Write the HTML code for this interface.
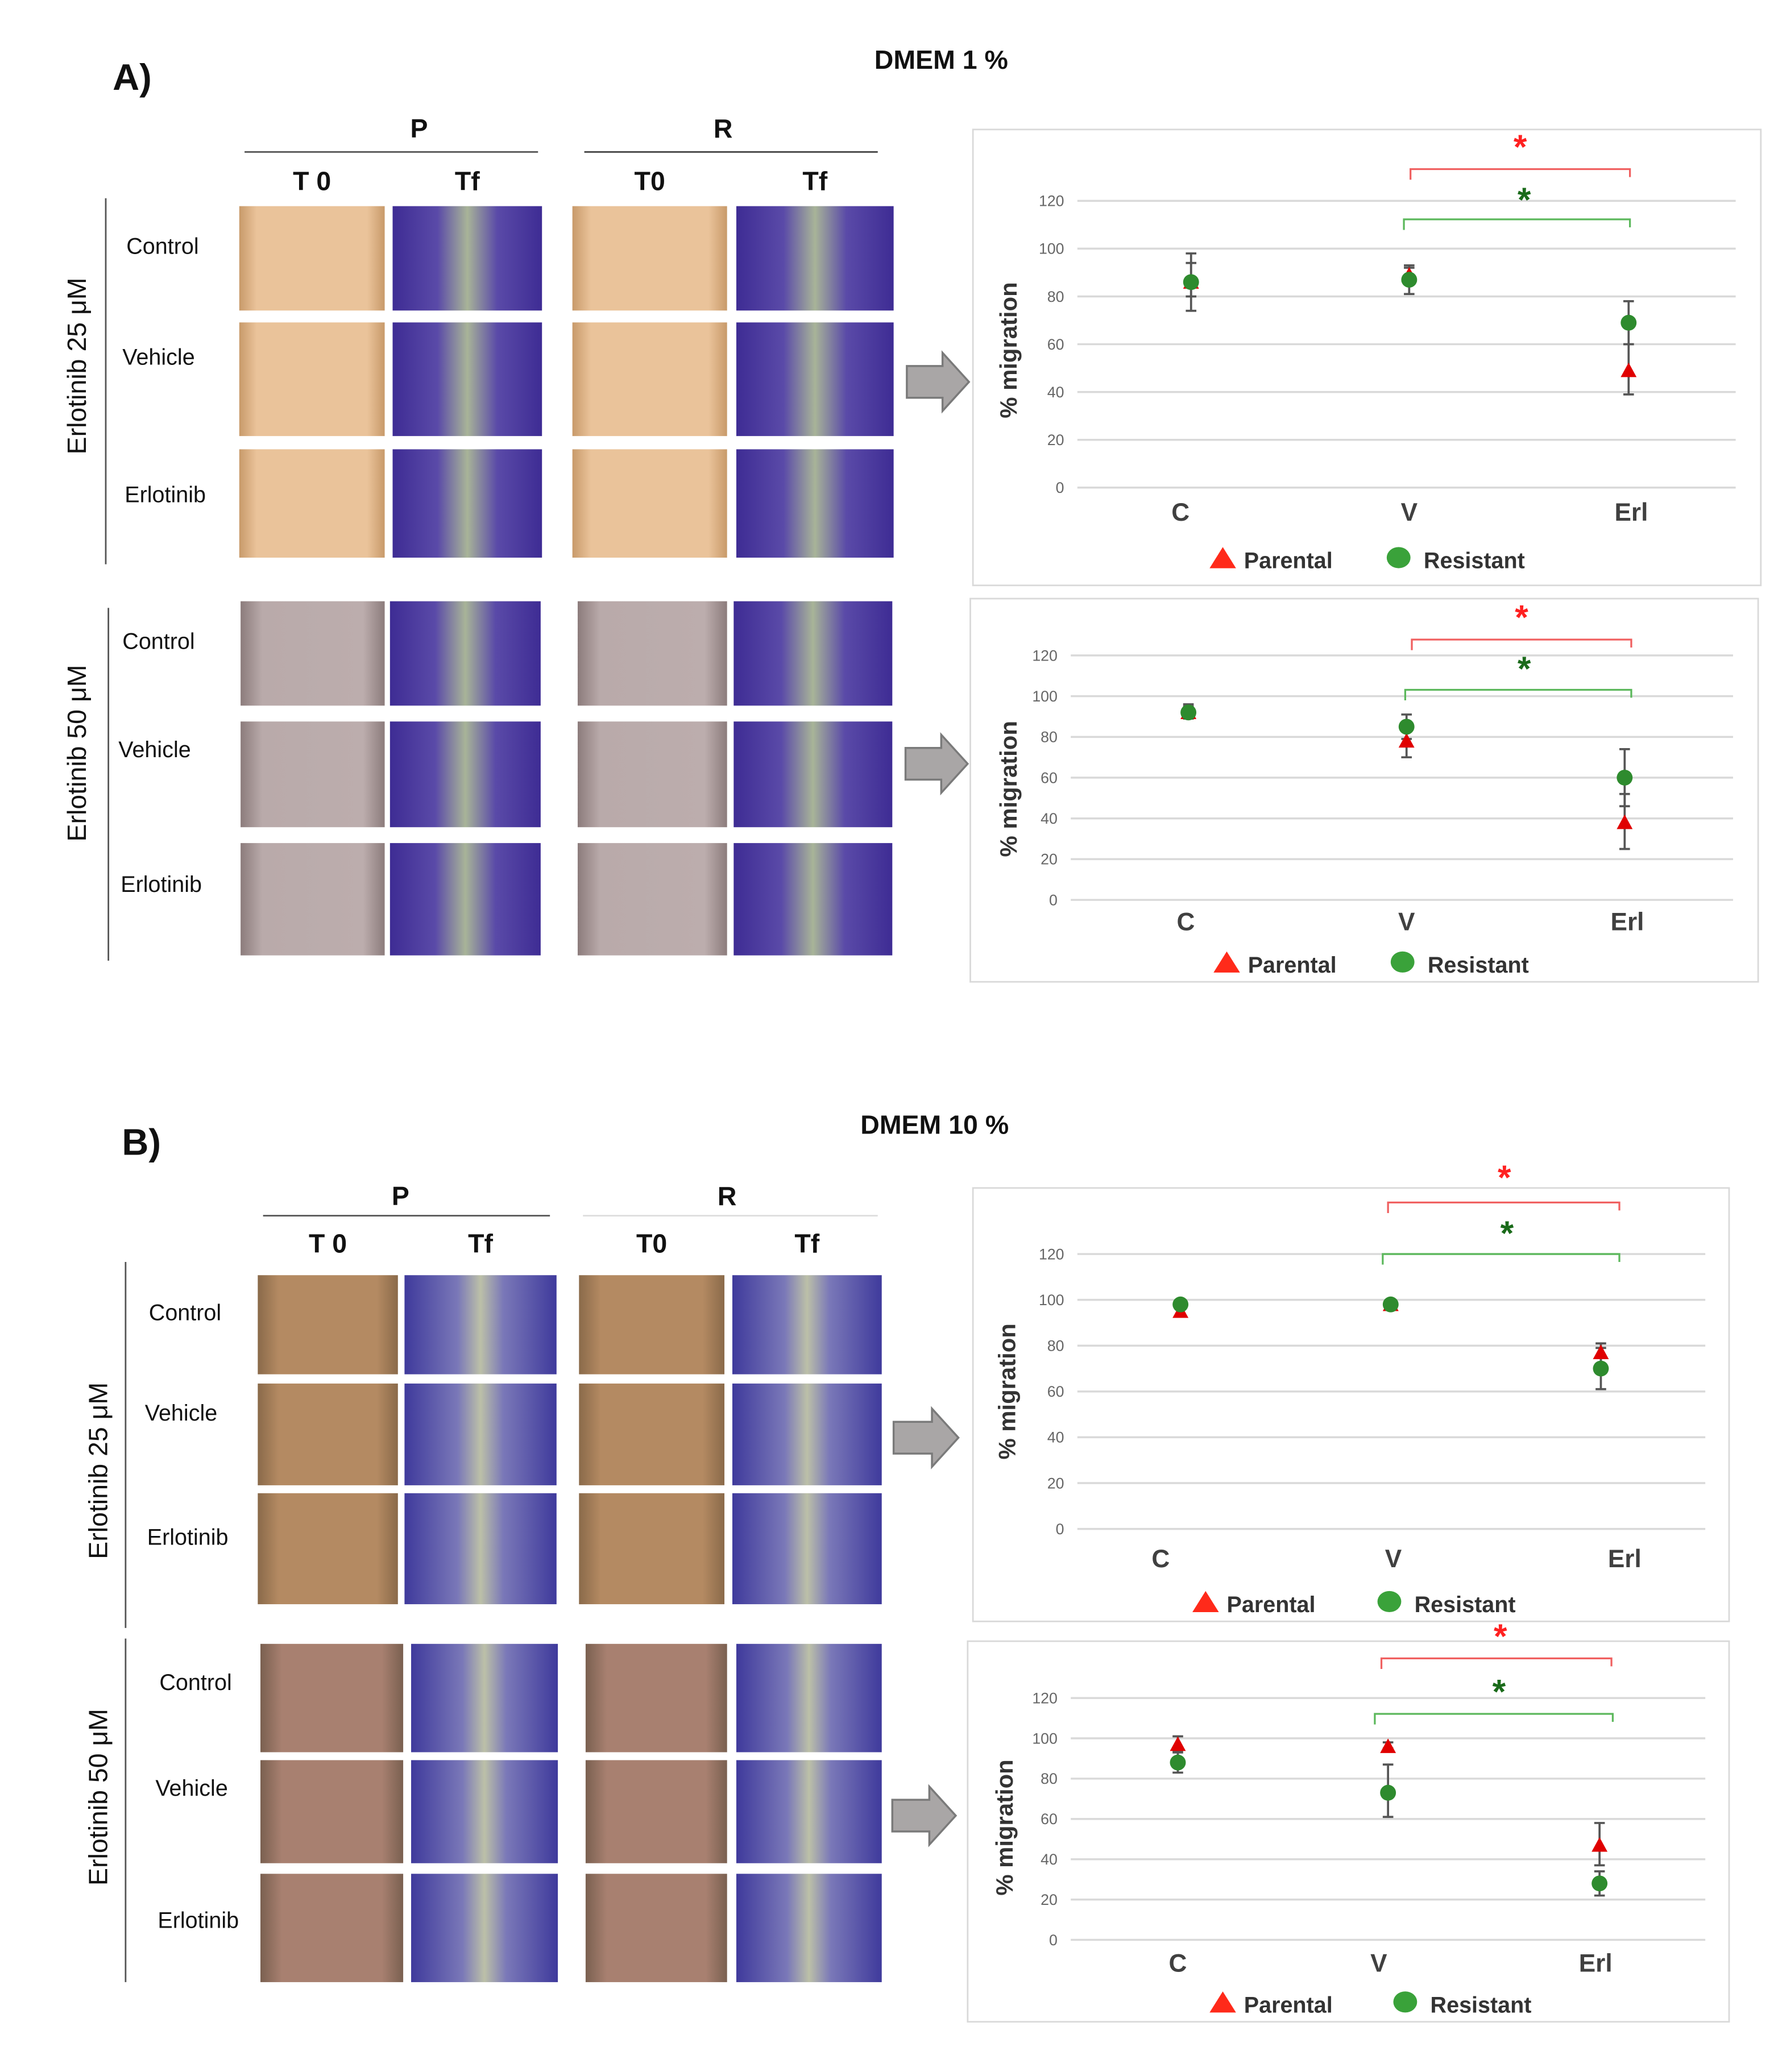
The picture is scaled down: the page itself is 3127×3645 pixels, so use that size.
<!DOCTYPE html>
<html><head><meta charset="utf-8">
<style>
html,body{margin:0;padding:0;background:#fff;}
svg{display:block;}
text{font-family:"Liberation Sans",sans-serif;}
</style></head>
<body>
<svg id="fig" width="3127" height="3645" viewBox="0 0 1345 1568" preserveAspectRatio="none" xmlns="http://www.w3.org/2000/svg">
<defs>
<linearGradient id="tfA" x1="0" x2="1"><stop offset="0" stop-color="#3e2c94"/><stop offset="0.3" stop-color="#5a4aa8"/><stop offset="0.5" stop-color="#a8b498"/><stop offset="0.7" stop-color="#5a4aa8"/><stop offset="1" stop-color="#3e2c94"/></linearGradient>
<linearGradient id="tfB" x1="0" x2="1"><stop offset="0" stop-color="#3f3a9c"/><stop offset="0.35" stop-color="#7a78b8"/><stop offset="0.5" stop-color="#bcc0a8"/><stop offset="0.65" stop-color="#7a78b8"/><stop offset="1" stop-color="#3f3a9c"/></linearGradient>
<linearGradient id="t0A" x1="0" x2="1"><stop offset="0" stop-color="#c89a6a"/><stop offset="0.12" stop-color="#eac39a"/><stop offset="0.88" stop-color="#eac39a"/><stop offset="1" stop-color="#c89a6a"/></linearGradient>
<linearGradient id="t0A2" x1="0" x2="1"><stop offset="0" stop-color="#8c7c7c"/><stop offset="0.15" stop-color="#b9aaaa"/><stop offset="0.85" stop-color="#bcadad"/><stop offset="1" stop-color="#8c7c7c"/></linearGradient>
<linearGradient id="t0B" x1="0" x2="1"><stop offset="0" stop-color="#8a6a4a"/><stop offset="0.15" stop-color="#b48a62"/><stop offset="0.85" stop-color="#b48a62"/><stop offset="1" stop-color="#8a6a4a"/></linearGradient>
<linearGradient id="t0B2" x1="0" x2="1"><stop offset="0" stop-color="#7a6050"/><stop offset="0.15" stop-color="#a88070"/><stop offset="0.85" stop-color="#a88070"/><stop offset="1" stop-color="#7a6050"/></linearGradient>
</defs>
<g id="static"></g>
<g id="charts"></g>
</svg>
<script>
// ---------- chart data ----------
const categories = ['C','V','Erl'];
const yTicks = [0,20,40,60,80,100,120];

const a1ParentalVal = [86, 89, 49];
const a1ParentalLo  = [80, 85, 39];
const a1ParentalHi  = [94, 93, 60];
const a1ResistantVal = [86, 87, 69];
const a1ResistantLo  = [74, 81, 60];
const a1ResistantHi  = [98, 92, 78];

const a2ParentalVal = [92, 78, 38];
const a2ParentalLo  = [89, 70, 25];
const a2ParentalHi  = [95, 84, 52];
const a2ResistantVal = [92, 85, 60];
const a2ResistantLo  = [89, 79, 46];
const a2ResistantHi  = [96, 91, 74];

const b1ParentalVal = [95, 98, 77];
const b1ParentalLo  = [93, 97, 72];
const b1ParentalHi  = [97, 99, 81];
const b1ResistantVal = [98, 98, 70];
const b1ResistantLo  = [96, 97, 61];
const b1ResistantHi  = [99, 99, 79];

const b2ParentalVal = [97, 96, 47];
const b2ParentalLo  = [94, 95, 37];
const b2ParentalHi  = [101, 98, 58];
const b2ResistantVal = [88, 73, 28];
const b2ResistantLo  = [83, 61, 22];
const b2ResistantHi  = [93, 87, 34];

const NS='http://www.w3.org/2000/svg';
function mk(tag, attrs, parent, txt){
  const e=document.createElementNS(NS,tag);
  for(const k in attrs) e.setAttribute(k,attrs[k]);
  if(txt!==undefined) e.textContent=txt;
  parent.appendChild(e); return e;
}
const S=document.getElementById('static');
const C=document.getElementById('charts');

function txt(x,y,s,size,weight,name,anchor,rot){
  const t=mk('text',{x:x,y:y,'font-size':size,'font-weight':weight||'normal','text-anchor':anchor||'middle',fill:'#111'},S,s);
  if(rot) t.setAttribute('transform','rotate(-90 '+x+' '+y+')');
  
  
  return t;
}
function line(x1,y1,x2,y2,col,w,name){
  const l=mk('line',{x1:x1,y1:y1,x2:x2,y2:y2,stroke:col,'stroke-width':w},S);
  
  
}
function rect(x,y,w,h,fill,name){
  const r=mk('rect',{x:x,y:y,width:w,height:h,fill:fill},S);
  
  
}
function arrow(x1,x2,cy,name){
  const h=22, sh=12, head=x2-20;
  const p=mk('path',{d:`M${x1},${cy-sh} L${head},${cy-sh} L${head},${cy-h} L${x2},${cy} L${head},${cy+h} L${head},${cy+sh} L${x1},${cy+sh} Z`,fill:'#a9a6a6',stroke:'#7a7a7a','stroke-width':1.5},S);
  
  
}

txt(100,68,'A)',28,'bold','panel-a-label');
txt(712,52,'DMEM 1 %',20,'bold','panel-a-title');
txt(107,874,'B)',28,'bold','panel-b-label');
txt(707,858,'DMEM 10 %',20,'bold','panel-b-title');

function photoBlock(hdrY, lineY, colHdrY, pLine, rLine, pC, rC, colX, colW, rows, t0a, t0b, tf, vLines, vLabels, rowLabels, prefix, rLineCol){
  txt(pC,hdrY,'P',20,'bold',prefix+'-p-header');
  txt(rC,hdrY,'R',20,'bold',prefix+'-r-header');
  line(pLine[0],lineY,pLine[1],lineY,'#555',1.2,prefix+'-p-rule');
  line(rLine[0],lineY,rLine[1],lineY,rLineCol,1.2,prefix+'-r-rule');
  const hdrs=['T 0','Tf','T0','Tf'];
  for(let i=0;i<4;i++) txt(colX[0][i]+colW[0][i]/2,colHdrY,hdrs[i],20,'bold',prefix+'-col-header-'+i);
  rows.forEach((r,ri)=>{
    const g = ri<3?0:1;
    for(let i=0;i<4;i++){
      const fill = (i%2===1)? tf[g] : (g===0?t0a:t0b);
      rect(colX[g][i], r[0], colW[g][i], r[1]-r[0], fill, prefix+'-image-r'+ri+'-c'+i);
    }
  });
  vLines.forEach((v,i)=>line(v[0],v[1],v[0],v[2],'#555',1.2,prefix+'-group-bracket-'+i));
  vLabels.forEach((v,i)=>txt(v[0],v[1],v[2],20,'normal',prefix+'-group-label-'+i,'middle',true));
  rowLabels.forEach((r,i)=>txt(r[0],r[1],r[2],17,'normal',prefix+'-row-label-'+i,'middle'));
}
photoBlock(104,115,144,[185,407],[442,664],317,547,
  [[181,297,433,557],[182,295,437,555]],[[110,113,117,119],[109,114,113,120]],
  [[156,235],[244,330],[340,422],[455,534],[546,626],[638,723]],
  'url(#t0A)','url(#t0A2)',['url(#tfA)','url(#tfA)'],
  [[80,150,427],[82,460,727]],
  [[65,277,'Erlotinib 25 μM'],[65,570,'Erlotinib 50 μM']],
  [[123,192,'Control'],[120,276,'Vehicle'],[125,380,'Erlotinib'],[120,491,'Control'],[117,573,'Vehicle'],[122,675,'Erlotinib']],
  'a','#444');
photoBlock(912,920,948,[199,416],[441,664],303,550,
  [[195,306,438,554],[197,311,443,557]],[[106,115,110,113],[108,111,107,110]],
  [[965,1040],[1047,1124],[1130,1214],[1244,1326],[1332,1410],[1418,1500]],
  'url(#t0B)','url(#t0B2)',['url(#tfB)','url(#tfB)'],
  [[95,955,1232],[95,1240,1500]],
  [[81,1113,'Erlotinib 25 μM'],[81,1360,'Erlotinib 50 μM']],
  [[140,999,'Control'],[137,1075,'Vehicle'],[142,1169,'Erlotinib'],[148,1279,'Control'],[145,1359,'Vehicle'],[150,1459,'Erlotinib']],
  'b','#ddd');
arrow(686,733,289,'arrow-a25');
arrow(685,732,578,'arrow-a50');
arrow(676,725,1088,'arrow-b25');
arrow(675,723,1374,'arrow-b50');

function chart(cfg, pVal,pLo,pHi, rVal,rLo,rHi){
  const g=mk('g',{},C);
  
  
  const box=mk('rect',{x:cfg.box[0],y:cfg.box[1],width:cfg.box[2]-cfg.box[0],height:cfg.box[3]-cfg.box[1],fill:'#fff',stroke:'#d9d9d9','stroke-width':1.2},g);
  
  
  const y=v=>cfg.y0+(cfg.y120-cfg.y0)*v/120;
  const x=i=>cfg.cx[i];
  yTicks.forEach(t=>{
    const l=mk('line',{x1:cfg.gx[0],x2:cfg.gx[1],y1:y(t),y2:y(t),stroke:'#d9d9d9','stroke-width':1.5},g);
    
    
    const tl=mk('text',{x:cfg.gx[0]-10,y:y(t)+4,'font-size':11.5,fill:'#666','text-anchor':'end'},g,String(t));
    
    
  });
  categories.forEach((c,i)=>{
    const t=mk('text',{x:x(i)+cfg.lx[i],y:cfg.labY,'font-size':19,'font-weight':'bold',fill:'#404040','text-anchor':'middle'},g,c);
    
    
  });
  const yt=mk('text',{x:cfg.ytx,y:cfg.yty,'font-size':18,'font-weight':'bold',fill:'#333','text-anchor':'middle',transform:`rotate(-90 ${cfg.ytx} ${cfg.yty})`},g,'% migration');
  
  
  function err(i,lo,hi){
    const e=mk('path',{d:`M${x(i)-4},${y(hi)} H${x(i)+4} M${x(i)},${y(hi)} V${y(lo)} M${x(i)-4},${y(lo)} H${x(i)+4}`,stroke:'#555','stroke-width':1.6,fill:'none'},g);
    
    
  }
  categories.forEach((c,i)=>{ err(i,pLo[i],pHi[i]); err(i,rLo[i],rHi[i]); });
  categories.forEach((c,i)=>{
    const cx=x(i), cy=y(pVal[i]);
    const t=mk('path',{d:`M${cx},${cy-6} L${cx+6},${cy+5} L${cx-6},${cy+5} Z`,fill:'#e00000'},g);
    
    
  });
  categories.forEach((c,i)=>{
    const ci=mk('circle',{cx:x(i),cy:y(rVal[i]),r:6,fill:'#2e8b2e'},g);
    
    
  });
  [[cfg.red,'#f06060','#ff2020','significance-bracket-parental'],[cfg.green,'#5cb85c','#1a6b1a','significance-bracket-resistant']].forEach(b=>{
    const [x1,x2,by,sx,sy]=b[0];
    const p=mk('path',{d:`M${x1},${by+8} V${by} H${x2} V${by+6}`,stroke:b[1],'stroke-width':1.4,fill:'none'},g);
    
    
    const s=mk('text',{x:sx,y:sy+10,'font-size':26,'font-weight':'bold',fill:b[2],'text-anchor':'middle'},g,'*');
    
    
  });
  const [tx,cx2,ly]=cfg.leg;
  const lt=mk('path',{d:`M${tx},${ly-9} L${tx+10},${ly+7} L${tx-10},${ly+7} Z`,fill:'#ff2a1a'},g);
  
  
  const ltt=mk('text',{x:tx+16,y:ly+7,'font-size':17,'font-weight':'bold',fill:'#333'},g,'Parental');
  
  
  const lc=mk('ellipse',{cx:cx2,cy:ly-1,rx:9,ry:8,fill:'#3aa23a'},g);
  
  
  const lct=mk('text',{x:cx2+19,y:ly+7,'font-size':17,'font-weight':'bold',fill:'#333'},g,'Resistant');
  
  
}

chart({name:'chart-a-25uM',box:[736,98,1332,443],gx:[815,1313],y0:369,y120:152,cx:[901,1066,1232],lx:[-8,0,2],labY:394,
  ytx:769,yty:265,red:[1067,1233,128,1150,110],green:[1062,1233,166,1153,150],leg:[925,1058,423]},
  a1ParentalVal,a1ParentalLo,a1ParentalHi,a1ResistantVal,a1ResistantLo,a1ResistantHi);
chart({name:'chart-a-50uM',box:[734,453,1330,743],gx:[810,1311],y0:681,y120:496,cx:[899,1064,1229],lx:[-2,0,2],labY:704,
  ytx:769,yty:597,red:[1068,1234,484,1151,466],green:[1063,1234,522,1153,505],leg:[928,1061,729]},
  a2ParentalVal,a2ParentalLo,a2ParentalHi,a2ResistantVal,a2ResistantLo,a2ResistantHi);
chart({name:'chart-b-25uM',box:[736,899,1308,1227],gx:[815,1290],y0:1157,y120:949,cx:[893,1052,1211],lx:[-15,2,18],labY:1186,
  ytx:768,yty:1053,red:[1050,1225,910,1138,890],green:[1046,1225,949,1140,932],leg:[912,1051,1213]},
  b1ParentalVal,b1ParentalLo,b1ParentalHi,b1ResistantVal,b1ResistantLo,b1ResistantHi);
chart({name:'chart-b-50uM',box:[732,1242,1308,1530],gx:[810,1290],y0:1468,y120:1285,cx:[891,1050,1210],lx:[0,-7,-3],labY:1492,
  ytx:766,yty:1383,red:[1045,1219,1255,1135,1237],green:[1040,1220,1297,1134,1279],leg:[925,1063,1516]},
  b2ParentalVal,b2ParentalLo,b2ParentalHi,b2ResistantVal,b2ResistantLo,b2ResistantHi);
</script>
</body></html>
